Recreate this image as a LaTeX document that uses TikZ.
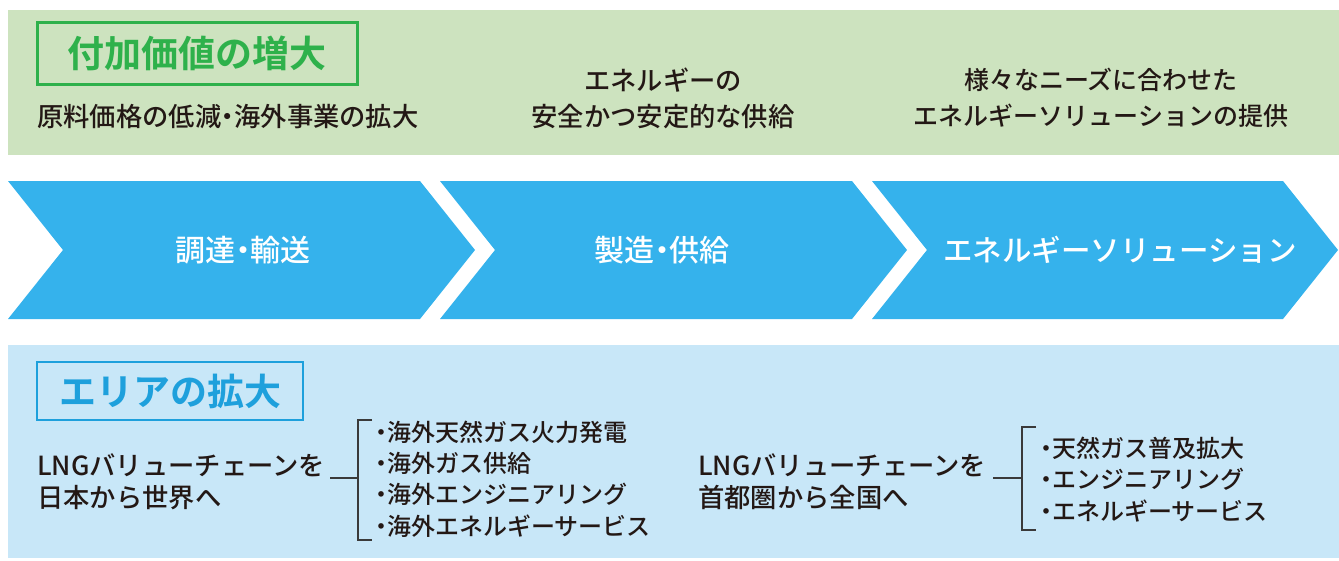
\documentclass[tikz,border=0pt]{standalone}
\usepackage{fontspec}
\newfontfamily\jp{Noto Sans CJK JP Medium}
\newfontfamily\jpb{Noto Sans CJK JP Bold}
\definecolor{bandgreen}{HTML}{CDE3BF}
\definecolor{bandblue}{HTML}{C8E7F8}
\definecolor{chevblue}{HTML}{35B2EC}
\definecolor{titlegreen}{HTML}{2EB14B}
\definecolor{titleblue}{HTML}{1EA0DC}
\definecolor{ink}{HTML}{231815}
\definecolor{brk}{HTML}{3A3A3A}
\newcommand\jdot{\kern-0.25em・\kern-0.25em}
\tikzset{
  chev/.style={fill=chevblue, draw=none},
  chevtext/.style={text=white, font=\jp\fontsize{30}{32}\selectfont, inner sep=0},
  body/.style={text=ink, font=\jp\fontsize{26.3}{36}\selectfont, inner sep=0, align=center},
  lbody/.style={text=ink, font=\jp\fontsize{26.3}{32}\selectfont, inner sep=0, align=left},
  item/.style={text=ink, font=\jp\fontsize{24}{31}\selectfont, inner sep=0, anchor=west},
  gtitle/.style={draw=titlegreen, line width=3pt, text=titlegreen, font=\jpb\fontsize{37}{40}\selectfont, inner sep=0},
  btitle/.style={draw=titleblue, line width=2.5pt, text=titleblue, font=\jpb\fontsize{37}{40}\selectfont, inner sep=0},
  bline/.style={draw=brk, line width=1.4pt}
}
\begin{document}
\begin{tikzpicture}[x=1pt,y=-1pt]
\useasboundingbox (0,0) rectangle (1339,560);
% bands
\fill[bandgreen] (8,10) rectangle (1339,155);
\fill[bandblue] (8,345) rectangle (1339,558);
% green title
\node[gtitle, minimum width=320pt, minimum height=62pt] (gt) at (197,53) {付加価値の増大};
\node[body, anchor=west] (g1) at (37,117) {原料価格の低減\jdot 海外事業の拡大};
\node[body] (g2) at (663,98) {エネルギーの\\安全かつ安定的な供給};
\node[body, font=\jp\fontsize{25}{36}\selectfont] (g3) at (1101,98) {様々なニーズに合わせた\\エネルギーソリューションの提供};
% chevrons
\fill[chev] (8,181) -- (420,181) -- (475,250) -- (420,319) -- (8,319) -- (63,250) -- cycle;
\fill[chev] (440,181) -- (852,181) -- (907,250) -- (852,319) -- (440,319) -- (495,250) -- cycle;
\fill[chev] (872,181) -- (1283,181) -- (1338,250) -- (1283,319) -- (872,319) -- (927,250) -- cycle;
\node[chevtext] (c1) at (243,250) {調達\jdot 輸送};
\node[chevtext] (c2) at (662,250) {製造\jdot 供給};
\node[chevtext, font=\jp\fontsize{29.5}{32}\selectfont] (c3) at (1120,250) {エネルギーソリューション};
% blue title
\node[btitle, minimum width=266pt, minimum height=58pt] (bt) at (170,391) {エリアの拡大};
% left group
\node[lbody, anchor=west] (l1) at (37,482) {LNGバリューチェーンを\\日本から世界へ};
\coordinate (lh) at (330,478);
\coordinate (lv) at (358,478);
\coordinate (lt) at (358,420);
\coordinate (lb) at (358,540);
\coordinate (ltt) at (372,420);
\coordinate (lbb) at (372,540);
\draw[bline] (lh) -- (lv);
\draw[bline] (ltt) -- (lt) -- (lb) -- (lbb);
\node[item] (i1) at (375,432) {\jdot 海外天然ガス火力発電};
\node[item] (i2) at (375,463) {\jdot 海外ガス供給};
\node[item] (i3) at (375,494) {\jdot 海外エンジニアリング};
\node[item] (i4) at (375,526) {\jdot 海外エネルギーサービス};
% right group
\node[lbody, anchor=west] (r1) at (698,482) {LNGバリューチェーンを\\首都圏から全国へ};
\coordinate (rh) at (993,478);
\coordinate (rv) at (1022,478);
\coordinate (rt) at (1022,427);
\coordinate (rb) at (1022,530);
\coordinate (rtt) at (1036,427);
\coordinate (rbb) at (1036,530);
\draw[bline] (rh) -- (rv);
\draw[bline] (rtt) -- (rt) -- (rb) -- (rbb);
\node[item] (j1) at (1040,448) {\jdot 天然ガス普及拡大};
\node[item] (j2) at (1040,479) {\jdot エンジニアリング};
\node[item] (j3) at (1040,511) {\jdot エネルギーサービス};
\end{tikzpicture}
\end{document}
